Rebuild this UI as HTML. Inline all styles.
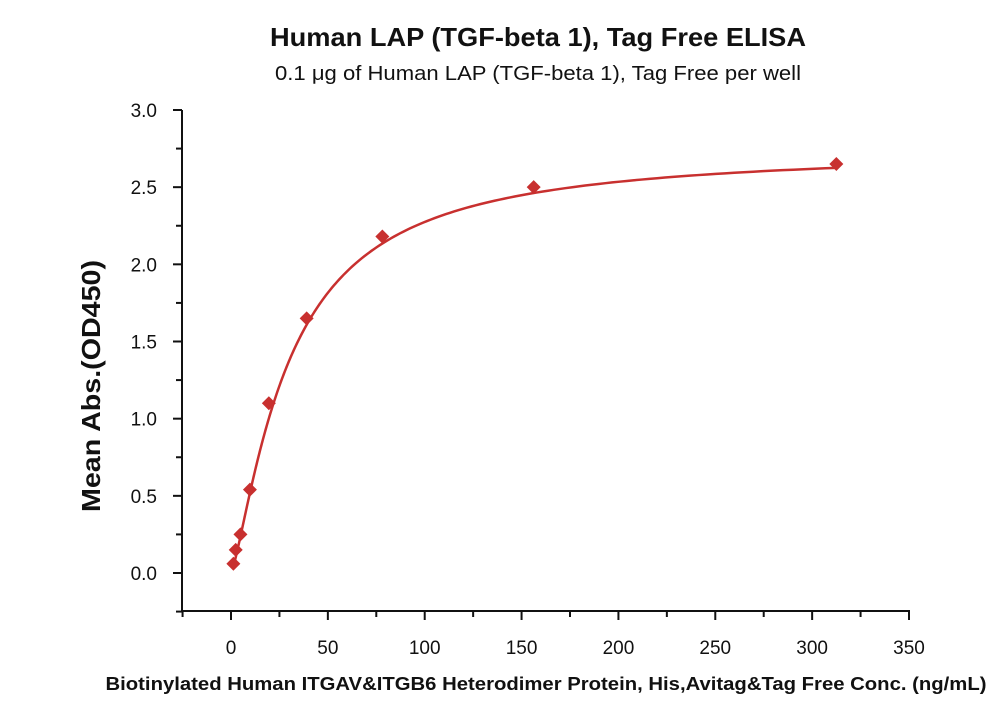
<!DOCTYPE html>
<html><head><meta charset="utf-8"><style>
body{margin:0;background:#fff;}
svg text{font-family:"Liberation Sans",sans-serif;}
</style></head><body>
<svg id="chart" width="1000" height="714" xmlns="http://www.w3.org/2000/svg">
<text x="538" y="46" text-anchor="middle" font-size="26" font-weight="bold" fill="#111" textLength="536" lengthAdjust="spacingAndGlyphs">Human LAP (TGF-beta 1), Tag Free ELISA</text>
<text x="538" y="80" text-anchor="middle" font-size="20" fill="#111" textLength="526" lengthAdjust="spacingAndGlyphs">0.1 μg of Human LAP (TGF-beta 1), Tag Free per well</text>
<text transform="translate(100,386) rotate(-90)" text-anchor="middle" font-size="26" font-weight="bold" fill="#111" textLength="252" lengthAdjust="spacingAndGlyphs">Mean Abs.(OD450)</text>
<text x="546" y="690" text-anchor="middle" font-size="18" font-weight="bold" fill="#111" textLength="881" lengthAdjust="spacingAndGlyphs">Biotinylated Human ITGAV&amp;ITGB6 Heterodimer Protein, His,Avitag&amp;Tag Free Conc. (ng/mL)</text>
<g id="axes"></g>
<g id="marks"></g>
</svg>
<script>
const concs=[1.22,2.44,4.88,9.77,19.53,39.06,78.13,156.25,312.5];
const ods=[0.06,0.15,0.25,0.54,1.10,1.65,2.18,2.50,2.65];
const xTicks=[0,50,100,150,200,250,300,350];
const yTicks=[0.0,0.5,1.0,1.5,2.0,2.5,3.0];
const fitTop=2.75, fitEC50=30, fitHill=1.3;
const NS="http://www.w3.org/2000/svg";
const X=v=>231+v*(678/350);
const Y=v=>573-v*(463/3);
function mk(tag,attrs,parent){const e=document.createElementNS(NS,tag);for(const k in attrs)e.setAttribute(k,attrs[k]);parent.appendChild(e);return e;}
const ax=document.getElementById('axes'), mg=document.getElementById('marks');
const ya=mk('line',{x1:182,y1:110,x2:182,y2:611,stroke:'#111','stroke-width':2},ax);


const xa=mk('line',{x1:181,y1:611,x2:910,y2:611,stroke:'#111','stroke-width':2},ax);


for(let v=-25;v<=350;v+=25){const major=v%50===0;const t=mk('line',{x1:X(v),y1:611,x2:X(v),y2:611+(major?9:6),stroke:'#111','stroke-width':2},ax);

}
xTicks.forEach(v=>{const t=mk('text',{x:X(v),y:654,'text-anchor':'middle','font-size':19,fill:'#111'},ax);t.textContent=v;

});
for(let v=-0.25;v<=3.001;v+=0.25){const major=Math.abs(v*2-Math.round(v*2))<1e-6;const t=mk('line',{x1:182-(major?9:6),y1:Y(v),x2:182,y2:Y(v),stroke:'#111','stroke-width':2},ax);

}
yTicks.forEach(v=>{const t=mk('text',{x:157,y:Y(v)+7,'text-anchor':'end','font-size':19,fill:'#111'},ax);t.textContent=v.toFixed(1);

});
let d='';const x0=concs[0],x1=concs[concs.length-1];
for(let i=0;i<=300;i++){const x=x0*Math.pow(x1/x0,i/300);const y=fitTop*Math.pow(x,fitHill)/(Math.pow(fitEC50,fitHill)+Math.pow(x,fitHill));d+=(i?'L':'M')+X(x).toFixed(2)+','+Y(y).toFixed(2);}
const c=mk('path',{d:d,fill:'none',stroke:'#c8302f','stroke-width':2.5},mg);


concs.forEach((x,i)=>{const cx=X(x),cy=Y(ods[i]);const p=mk('polygon',{points:`${cx},${cy-7} ${cx+7},${cy} ${cx},${cy+7} ${cx-7},${cy}`,fill:'#c8302f'},mg);

});
</script>
</body></html>
